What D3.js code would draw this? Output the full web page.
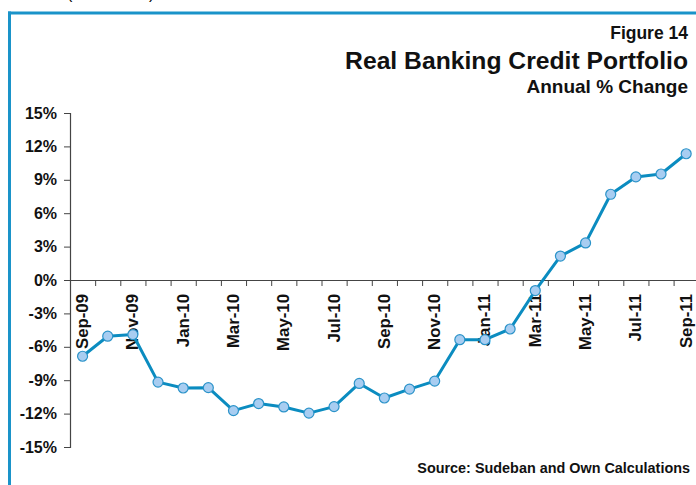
<!DOCTYPE html>
<html>
<head>
<meta charset="utf-8">
<script src="https://cdn.jsdelivr.net/npm/d3@7"></script>
<style>
  html, body { margin: 0; padding: 0; background: #fff; }
  svg { display: block; font-family: Arial, "Liberation Sans", Helvetica, sans-serif; }
</style>
</head>
<body>
<svg id="chart" width="696" height="485"></svg>
<script>
// Monthly observations, Sep-2009 .. Sep-2011
const months = ["Sep-09","Oct-09","Nov-09","Dec-09","Jan-10","Feb-10","Mar-10","Apr-10","May-10","Jun-10",
                "Jul-10","Aug-10","Sep-10","Oct-10","Nov-10","Dec-10","Jan-11","Feb-11","Mar-11","Apr-11",
                "May-11","Jun-11","Jul-11","Aug-11","Sep-11"];
// Real banking credit portfolio, annual % change
const creditChange = [-6.85, -5.05, -4.9, -9.17, -9.7, -9.67, -11.73, -11.1, -11.4, -11.96,
                      -11.37, -9.29, -10.6, -9.8, -9.08, -5.36, -5.36, -4.4, -0.95, 2.15,
                      3.33, 7.7, 9.26, 9.52, 11.34];
// Month labels shown on the axis (every second month)
const shownLabels = ["Sep-09","Nov-09","Jan-10","Mar-10","May-10","Jul-10","Sep-10","Nov-10",
                     "Jan-11","Mar-11","May-11","Jul-11","Sep-11"];
const yTicks = [-15, -12, -9, -6, -3, 0, 3, 6, 9, 12, 15];

const svg = d3.select("#chart");
const blue = "#1a93c9";

// Frame
svg.append("line").attr("x1", 8).attr("x2", 696).attr("y1", 13).attr("y2", 13)
  .attr("stroke", blue).attr("stroke-width", 3);
svg.append("line").attr("x1", 9.5).attr("x2", 9.5).attr("y1", 11.5).attr("y2", 485)
  .attr("stroke", blue).attr("stroke-width", 3);

// Text peeking in above the frame
svg.append("text").attr("x", 67).attr("y", -1).attr("font-size", 16).text("(");
svg.append("text").attr("x", 149).attr("y", -1).attr("font-size", 16).text(")");

// Titles
const titles = [
  {t: "Figure 14", y: 38.5, s: 17.5},
  {t: "Real Banking Credit Portfolio", y: 68.5, s: 24.7},
  {t: "Annual % Change", y: 92.5, s: 19}
];
svg.selectAll("text.title").data(titles).join("text")
  .attr("class", "title")
  .attr("x", 688).attr("y", d => d.y)
  .attr("text-anchor", "end")
  .attr("font-weight", "bold")
  .attr("font-size", d => d.s)
  .attr("fill", "#111")
  .text(d => d.t);

// Scales
const left = 70, step = 25.15;
const xIdx = d3.scaleLinear().domain([0, months.length]).range([left, left + step * months.length]);
const x = d3.scaleBand().domain(months).range(xIdx.range()).padding(0);
const y = d3.scaleLinear().domain([-15, 15]).range([447, 113]);

// Y axis
const yAxis = svg.append("g").attr("transform", `translate(${left},0)`)
  .call(d3.axisLeft(y).tickValues(yTicks).tickSize(6).tickFormat(d => d + "%"));
yAxis.select(".domain").attr("stroke", "#444").attr("stroke-width", 1.2);
yAxis.selectAll(".tick line").attr("stroke", "#444");
yAxis.selectAll(".tick text")
  .attr("x", -13)
  .attr("font-size", 16).attr("font-weight", "bold").attr("fill", "#111")
  .attr("font-family", "Arial, 'Liberation Sans', sans-serif");

// X axis at zero line, ticks at month boundaries
const xAxis = svg.append("g").attr("transform", `translate(0,${y(0)})`)
  .call(d3.axisBottom(xIdx).tickValues(d3.range(months.length + 1)).tickSize(6).tickFormat("").tickSizeOuter(0));
xAxis.select(".domain").attr("stroke", "#444").attr("stroke-width", 1.2);
xAxis.selectAll(".tick line").attr("stroke", "#444");

// Rotated month labels
svg.append("g").selectAll("text").data(shownLabels).join("text")
  .attr("transform", d => `translate(${x(d) + x.bandwidth() / 2 + 5.5},${y(0) + 14}) rotate(-90)`)
  .attr("text-anchor", "end")
  .attr("font-size", 16.8).attr("font-weight", "bold").attr("fill", "#111")
  .text(d => d);

// Series line and markers
const pts = months.map((m, i) => ({m, v: creditChange[i]}));
const line = d3.line().x(d => x(d.m) + x.bandwidth() / 2).y(d => y(d.v));
svg.append("path").datum(pts)
  .attr("d", line)
  .attr("fill", "none")
  .attr("stroke", "#0b8cc0")
  .attr("stroke-width", 3)
  .attr("stroke-linejoin", "round");
svg.append("g").selectAll("circle").data(pts).join("circle")
  .attr("cx", d => x(d.m) + x.bandwidth() / 2)
  .attr("cy", d => y(d.v))
  .attr("r", 5)
  .attr("fill", "#a8cdf1")
  .attr("stroke", "#2b93c9")
  .attr("stroke-width", 1.2);

// Source note
svg.append("text").attr("x", 690).attr("y", 473)
  .attr("text-anchor", "end")
  .attr("font-size", 14.4).attr("font-weight", "bold").attr("fill", "#111")
  .text("Source: Sudeban and Own Calculations");
</script>
</body>
</html>
